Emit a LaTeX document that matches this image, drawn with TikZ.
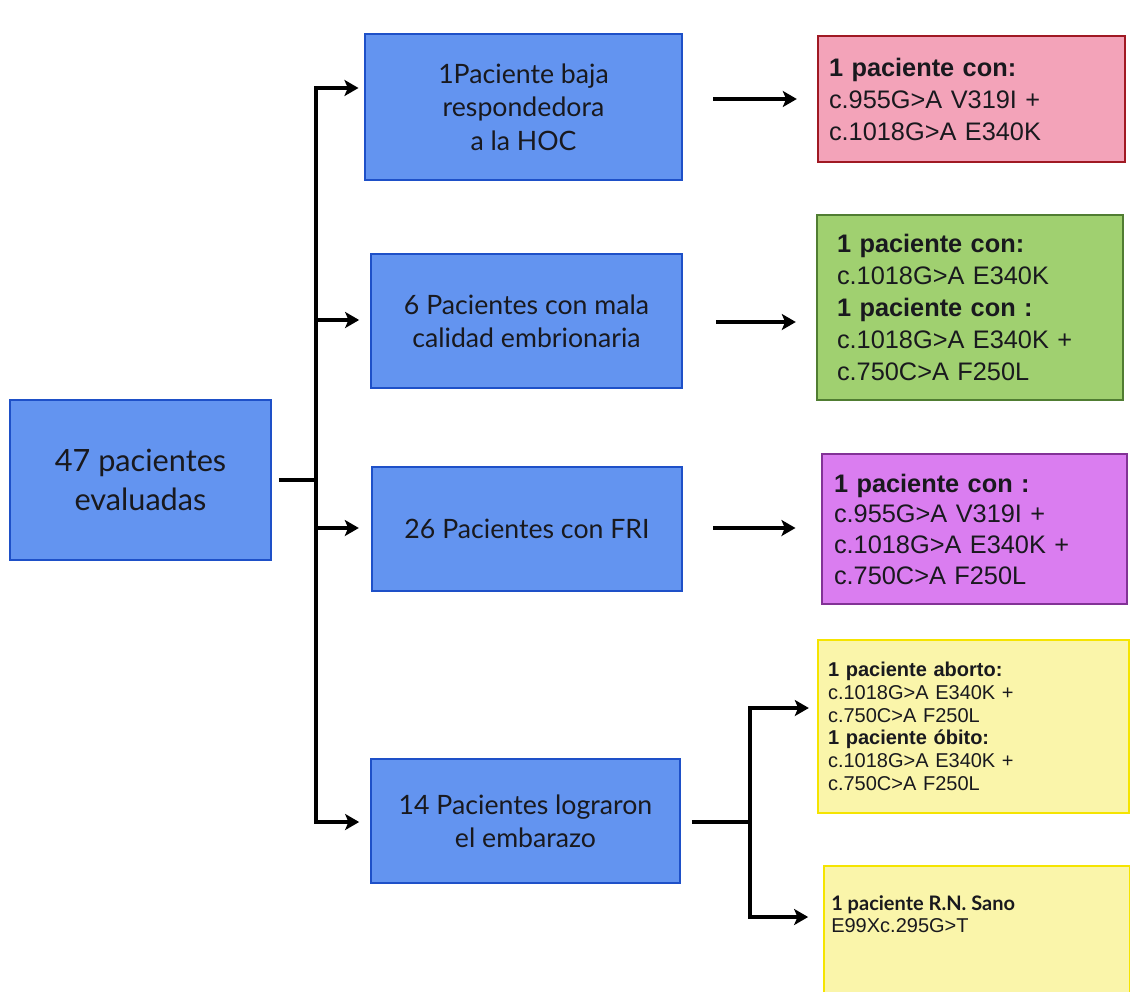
\documentclass[tikz,border=0pt]{standalone}
\usepackage{fontspec}
\setmainfont{Liberation Sans}
\newfontfamily\gill{Lato}
\usetikzlibrary{arrows.meta}
\definecolor{bluefill}{RGB}{99,148,240}
\definecolor{blueline}{RGB}{30,80,200}
\definecolor{pinkfill}{RGB}{243,163,185}
\definecolor{pinkline}{RGB}{160,25,35}
\definecolor{greenfill}{RGB}{160,208,112}
\definecolor{greenline}{RGB}{80,125,50}
\definecolor{purplefill}{RGB}{218,125,240}
\definecolor{purpleline}{RGB}{130,50,150}
\definecolor{yellowfill}{RGB}{250,245,170}
\definecolor{yellowline}{RGB}{245,228,0}
\definecolor{ink}{RGB}{25,25,30}
\begin{document}
\begin{tikzpicture}[x=0.75pt,y=-0.75pt,
  bluebox/.style={draw=blueline, fill=bluefill, line width=1.8pt, align=center, text=ink,
    font=\gill\fontsize{20}{25}\selectfont, inner sep=0pt},
  resbox/.style={line width=1.8pt, align=left, text=ink, inner ysep=0pt,
    font=\fontsize{19}{24}\selectfont},
  ybox/.style={resbox, draw=yellowline, fill=yellowfill, font=\fontsize{15}{17}\selectfont},
  conn/.style={line width=2.6pt, black},
  arr/.style={conn, -{Stealth[length=10.5pt,width=12pt,inset=2.5pt]}}
]
\fill[white] (0,0) rectangle (1130,991);
\useasboundingbox (0,0) rectangle (1130,991);

% left and middle boxes
\node[bluebox, minimum width=261*0.75pt, minimum height=160*0.75pt,
  font=\gill\fontsize{23}{29}\selectfont] (main) at (140.5,480) {47 pacientes\\evaluadas};
\node[bluebox, minimum width=317*0.75pt, minimum height=146*0.75pt] (b1) at (523.5,107)
  {1Paciente baja\\respondedora\\a la HOC};
\node[bluebox, minimum width=311*0.75pt, minimum height=134*0.75pt] (b2) at (526.5,321)
  {6 Pacientes con mala\\calidad embrionaria};
\node[bluebox, minimum width=310*0.75pt, minimum height=124*0.75pt] (b3) at (527,529)
  {26 Pacientes con FRI};
\node[bluebox, minimum width=309*0.75pt, minimum height=124*0.75pt] (b4) at (525.5,821)
  {14 Pacientes lograron\\el embarazo};

% result boxes
\node[resbox, draw=pinkline, fill=pinkfill, inner xsep=8.25pt, text width=213.75pt,
  minimum height=126*0.75pt] (pink) at (971.5,99)
  {\textbf{1 paciente con:}\\c.955G>A V319I +\\c.1018G>A E340K};
\node[resbox, draw=greenline, fill=greenfill, inner xsep=15pt, text width=199.5pt,
  minimum height=185*0.75pt] (green) at (970,307.5)
  {\textbf{1 paciente con:}\\c.1018G>A E340K\\\textbf{1 paciente con :}\\c.1018G>A E340K +\\c.750C>A F250L};
\node[resbox, draw=purpleline, fill=purplefill, inner xsep=9pt, text width=210.75pt,
  minimum height=150*0.75pt, font=\fontsize{19}{23}\selectfont] (purple) at (974.5,529)
  {\textbf{1 paciente con :}\\c.955G>A V319I +\\c.1018G>A E340K +\\c.750C>A F250L};
\node[ybox, inner xsep=7.5pt, text width=218.25pt, minimum height=173*0.75pt] (y1) at (973.5,726.5)
  {\textbf{1 paciente aborto:}\\c.1018G>A E340K +\\c.750C>A F250L\\\textbf{1 paciente óbito:}\\c.1018G>A E340K +\\c.750C>A F250L};
\node[ybox, minimum width=306*0.75pt, minimum height=140*0.75pt] (y2) at (977,936) {};
\node[anchor=north west, inner sep=0pt, align=left, text=ink, font=\fontsize{15}{17}\selectfont]
  (y2t) at (831,895) {{\gill\bfseries 1 paciente R.N. Sano}\\E99Xc.295G>T};

% trunk
\coordinate (t0) at (316,480);
\coordinate (ttop) at (316,88);
\coordinate (t2) at (316,320);
\coordinate (t3) at (316,528);
\coordinate (tbot) at (316,822);
\draw[conn, shorten <=5pt] (main.east |- t0) -- (t0);
\draw[arr, shorten >=4pt] (t0) -- (ttop) -- (ttop -| b1.west);
\draw[arr, shorten >=8pt] (t0) -- (tbot) -- (tbot -| b4.west);
\draw[arr, shorten >=8pt] (t2) -- (t2 -| b2.west);
\draw[arr, shorten >=9pt] (t3) -- (t3 -| b3.west);

% to results
\coordinate (r1) at (713,99);
\coordinate (r2) at (716,322);
\coordinate (r3) at (713,528);
\draw[arr, shorten >=15pt] (r1) -- (r1 -| pink.west);
\draw[arr, shorten >=15pt] (r2) -- (r2 -| green.west);
\draw[arr, shorten >=19pt] (r3) -- (r3 -| purple.west);

% branch
\coordinate (bj) at (750,822);
\coordinate (bt) at (750,708);
\coordinate (bb) at (750,917);
\draw[conn, shorten <=8pt] (b4.east |- bj) -- (bj);
\draw[arr, shorten >=6pt] (bj) -- (bt) -- (bt -| y1.west);
\draw[arr, shorten >=11pt] (bj) -- (bb) -- (bb -| y2.west);
\end{tikzpicture}
\end{document}
